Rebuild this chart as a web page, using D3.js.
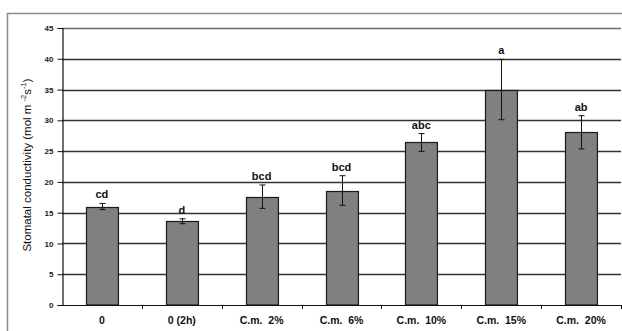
<!DOCTYPE html>
<html>
<head>
<meta charset="utf-8">
<script src="https://cdn.jsdelivr.net/npm/d3@7"></script>
<style>
  html, body { margin: 0; padding: 0; background: #fff; }
  svg { display: block; font-family: Arial, "Liberation Sans", sans-serif; }
</style>
</head>
<body>
<svg id="chart" width="622" height="331"></svg>
<script>
// Stomatal conductivity by treatment, with standard error and significance letters
const categories = ["0", "0 (2h)", "C.m.  2%", "C.m.  6%", "C.m.  10%", "C.m.  15%", "C.m.  20%"];
const means = [16.0, 13.6, 17.6, 18.6, 26.4, 35.0, 28.05];
const errors = [0.5, 0.4, 1.9, 2.4, 1.45, 4.9, 2.7];
const letters = ["cd", "d", "bcd", "bcd", "abc", "a", "ab"];
const yTicks = [0, 5, 10, 15, 20, 25, 30, 35, 40, 45];

const svg = d3.select("#chart");
const margin = { left: 62, right: 1, top: 28, bottom: 26 };
const W = 622, H = 331;
const FONT = "Arial, 'Liberation Sans', sans-serif";

// outer chart frame
svg.append("path")
  .attr("d", `M7.5,${H} V13.5 H${W}`)
  .attr("fill", "none").attr("stroke", "#8c8c8c").attr("stroke-width", 1.5);

const x = d3.scaleBand().domain(categories)
  .range([margin.left, W - margin.right]).paddingInner(0.6).paddingOuter(0.3);
const xBand = d3.scaleBand().domain(categories)
  .range([margin.left, W - margin.right]);
const y = d3.scaleLinear().domain([0, 45]).range([H - margin.bottom, margin.top]);

// horizontal gridlines (top one is the lighter plot-area border)
const gridLine = v => `M${margin.left},${Math.round(y(v)) + 0.5}H${W - margin.right}`;
svg.append("path")
  .attr("d", yTicks.filter(v => v > 0 && v < 45).map(gridLine).join(""))
  .attr("fill", "none").attr("stroke", "#333333").attr("stroke-width", 1.3);
svg.append("path")
  .attr("d", gridLine(45))
  .attr("fill", "none").attr("stroke", "#6a6a6a").attr("stroke-width", 1.4);

// bars
svg.append("g").selectAll("rect").data(means).join("rect")
  .attr("x", (d, i) => Math.round(x(categories[i])) + 0.5)
  .attr("y", d => Math.round(y(d)) + 0.5)
  .attr("width", x.bandwidth())
  .attr("height", d => y(0) - Math.round(y(d)) - 0.5)
  .attr("fill", "#808080").attr("stroke", "#1a1a1a").attr("stroke-width", 1.2);

// error bars
const eb = svg.append("g").attr("stroke", "#111").attr("stroke-width", 1);
means.forEach((m, i) => {
  const cx = Math.round(x(categories[i]) + x.bandwidth() / 2) + 0.5;
  const top = y(m + errors[i]), bot = y(m - errors[i]);
  eb.append("line").attr("x1", cx).attr("x2", cx).attr("y1", top).attr("y2", bot);
  eb.append("line").attr("x1", cx - 3).attr("x2", cx + 3).attr("y1", top).attr("y2", top);
  eb.append("line").attr("x1", cx - 3).attr("x2", cx + 3).attr("y1", bot).attr("y2", bot);
});

// significance letters
svg.append("g").selectAll("text").data(letters).join("text")
  .attr("x", (d, i) => x(categories[i]) + x.bandwidth() / 2)
  .attr("y", (d, i) => y(means[i] + errors[i]) - 5)
  .attr("text-anchor", "middle")
  .attr("font-size", 11).attr("font-weight", "bold").attr("fill", "#111")
  .text(d => d);

// y axis
const yAxis = svg.append("g")
  .attr("transform", `translate(${margin.left + 0.5},0)`)
  .call(d3.axisLeft(y).tickValues(yTicks).tickSize(5).tickPadding(4));
yAxis.select(".domain").attr("stroke", "#111").attr("stroke-width", 1.2);
yAxis.selectAll(".tick line").attr("stroke", "#111");
yAxis.selectAll("text").attr("font-size", 8).attr("font-weight", "bold")
  .attr("fill", "#222").attr("font-family", FONT);

// x axis
const xAxis = svg.append("g")
  .attr("transform", `translate(0,${y(0) + 0.5})`)
  .call(d3.axisBottom(xBand).tickSize(0).tickPadding(11));
xAxis.select(".domain").attr("stroke", "#111").attr("stroke-width", 1.2)
  .attr("d", `M${margin.left},0H${W - margin.right}`);
xAxis.selectAll("text").attr("font-size", 10.5).attr("font-weight", "bold")
  .attr("fill", "#111").attr("font-family", FONT)
  .style("white-space", "pre");
// category separator ticks
svg.append("g").selectAll("line").data(categories).join("line")
  .attr("x1", d => Math.round(xBand(d) + xBand.bandwidth()) + 0.5)
  .attr("x2", d => Math.round(xBand(d) + xBand.bandwidth()) + 0.5)
  .attr("y1", y(0)).attr("y2", y(0) + 4)
  .attr("stroke", "#111");

// y axis title with superscript exponents
const title = svg.append("text")
  .attr("transform", `translate(31,165) rotate(-90)`)
  .attr("text-anchor", "middle")
  .attr("font-size", 11.5).attr("fill", "#111")
  .style("white-space", "pre");
title.append("tspan").text("Stomatal conductivity (mol m ");
title.append("tspan").attr("font-size", 7.5).attr("dy", -5).text("-2");
title.append("tspan").attr("dy", 5).text("s");
title.append("tspan").attr("font-size", 7.5).attr("dy", -5).text("-1");
title.append("tspan").attr("dy", 5).text(")");
</script>
</body>
</html>
